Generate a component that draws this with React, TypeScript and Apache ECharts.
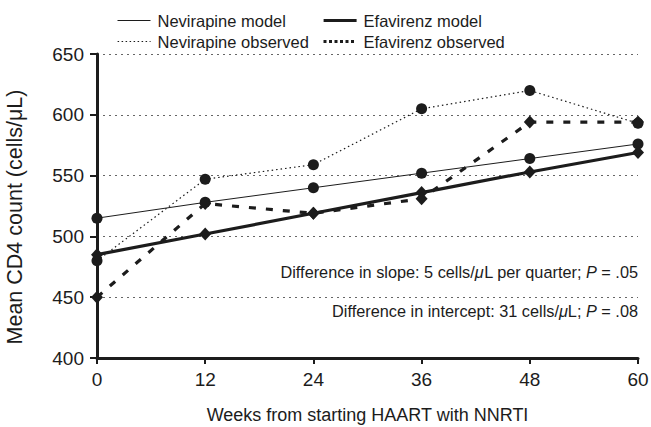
import React, { useEffect, useRef } from "react";
import * as echarts from "echarts";

const weeks = [0, 12, 24, 36, 48, 60];
const nevirapineModel = [515, 528, 540, 552, 564, 576];
const efavirenzModel = [485, 502, 519, 536, 553, 569];
const nevirapineObserved = [480, 547, 559, 605, 620, 593];
const efavirenzObserved = [450, 527, 519, 531, 594, 594];
const yTicks = [400, 450, 500, 550, 600, 650];
const seriesNames = ["Nevirapine model", "Efavirenz model", "Nevirapine observed", "Efavirenz observed"];

const FONT = "'Liberation Sans', Arial, sans-serif";
const INK = "#1c1c1c";

const pairs = (vals: number[]) => weeks.map((w, i) => [w, vals[i]]);

export default function App() {
  const ref = useRef<HTMLDivElement>(null);
  useEffect(() => {
    if (!ref.current) return;
    const chart = echarts.init(ref.current, undefined, { renderer: "svg" });
    const legendBase = {
      itemWidth: 33,
      itemHeight: 14,
      itemGap: 0,
      textStyle: { fontFamily: FONT, fontSize: 16.5, color: INK, padding: [0, 0, 0, 2] },
      itemStyle: { opacity: 0 },
      selectedMode: false as const,
      padding: 0,
    };
    const rich = {
      a: { fontFamily: FONT, fontSize: 16.3, fill: INK },
      i: { fontFamily: FONT, fontSize: 16.3, fill: INK, fontStyle: "italic" },
    };
    const option: any = {
      animation: false,
      backgroundColor: "#ffffff",
      grid: {
        left: 97,
        right: 13,
        top: 54,
        bottom: 69,
        containLabel: false,
        outerBoundsMode: "none",
      },
      legend: [
        { ...legendBase, left: 117, top: 12, data: [seriesNames[0]], lineStyle: { width: 1, color: INK } },
        { ...legendBase, left: 322, top: 12, data: [seriesNames[1]], lineStyle: { width: 3.2, color: INK } },
        {
          ...legendBase,
          left: 117,
          top: 33,
          data: [seriesNames[2]],
          lineStyle: { width: 1.2, color: INK, type: [1.5, 2.5] },
        },
        {
          ...legendBase,
          left: 322,
          top: 33,
          data: [seriesNames[3]],
          lineStyle: { type: [3, 2.5], width: 3, color: INK },
        },
      ],
      xAxis: {
        type: "value",
        min: 0,
        max: 60,
        interval: 12,
        name: "Weeks from starting HAART with NNRTI",
        nameLocation: "middle",
        nameGap: 48,
        nameTextStyle: { fontFamily: FONT, fontSize: 18, color: INK },
        axisLine: { show: true, lineStyle: { color: INK, width: 3 } },
        axisTick: { show: true, length: 6, lineStyle: { color: INK, width: 2 } },
        axisLabel: { fontFamily: FONT, fontSize: 19, color: INK, margin: 12 },
        splitLine: { show: false },
      },
      yAxis: {
        type: "value",
        min: 400,
        max: 650,
        interval: 50,
        name: "Mean CD4 count (cells/μL)",
        nameLocation: "middle",
        nameGap: 71,
        nameTextStyle: { fontFamily: FONT, fontSize: 21.5, color: INK, padding: [0, 22, 0, 0] },
        axisLine: { show: true, lineStyle: { color: INK, width: 3 } },
        axisTick: { show: true, length: 7, lineStyle: { color: INK, width: 2 } },
        axisLabel: {
          fontFamily: FONT,
          fontSize: 19,
          color: INK,
          margin: 13,
          formatter: (v: number) => (yTicks.includes(v) ? String(v) : ""),
        },
        splitLine: { show: true, lineStyle: { color: "#666", width: 1, type: [2, 4] } },
      },
      series: [
        {
          name: seriesNames[0],
          type: "line",
          data: pairs(nevirapineModel),
          symbol: "circle",
          symbolSize: 11,
          lineStyle: { color: INK, width: 1 },
          itemStyle: { color: INK },
          z: 3,
        },
        {
          name: seriesNames[1],
          type: "line",
          data: pairs(efavirenzModel),
          symbol: "diamond",
          symbolSize: [12, 13],
          lineStyle: { color: INK, width: 3.2 },
          itemStyle: { color: INK },
          z: 4,
        },
        {
          name: seriesNames[2],
          type: "line",
          data: pairs(nevirapineObserved),
          symbol: "circle",
          symbolSize: 11,
          lineStyle: { color: INK, width: 1.2, type: [1.5, 3] },
          itemStyle: { color: INK },
          z: 3,
        },
        {
          name: seriesNames[3],
          type: "line",
          data: pairs(efavirenzObserved),
          symbol: "diamond",
          symbolSize: [12, 13],
          lineStyle: { color: INK, width: 3.2, type: [7, 10] },
          itemStyle: { color: INK },
          z: 4,
        },
      ],
      graphic: [
        {
          type: "text",
          x: 638,
          y: 272,
          style: {
            text: "{a|Difference in slope: 5 cells/}{i|μ}{a|L per quarter; }{i|P}{a| = .05}",
            rich,
            align: "right",
            verticalAlign: "middle",
          },
        },
        {
          type: "text",
          x: 638,
          y: 311,
          style: {
            text: "{a|Difference in intercept: 31 cells/}{i|μ}{a|L; }{i|P}{a| = .08}",
            rich,
            align: "right",
            verticalAlign: "middle",
          },
        },
      ],
    };
    chart.setOption(option);
    return () => chart.dispose();
  }, []);
  return (
    <div
      ref={ref}
      style={{ position: "absolute", left: 0, top: 0, width: 651, height: 427, background: "#fff" }}
    />
  );
}
